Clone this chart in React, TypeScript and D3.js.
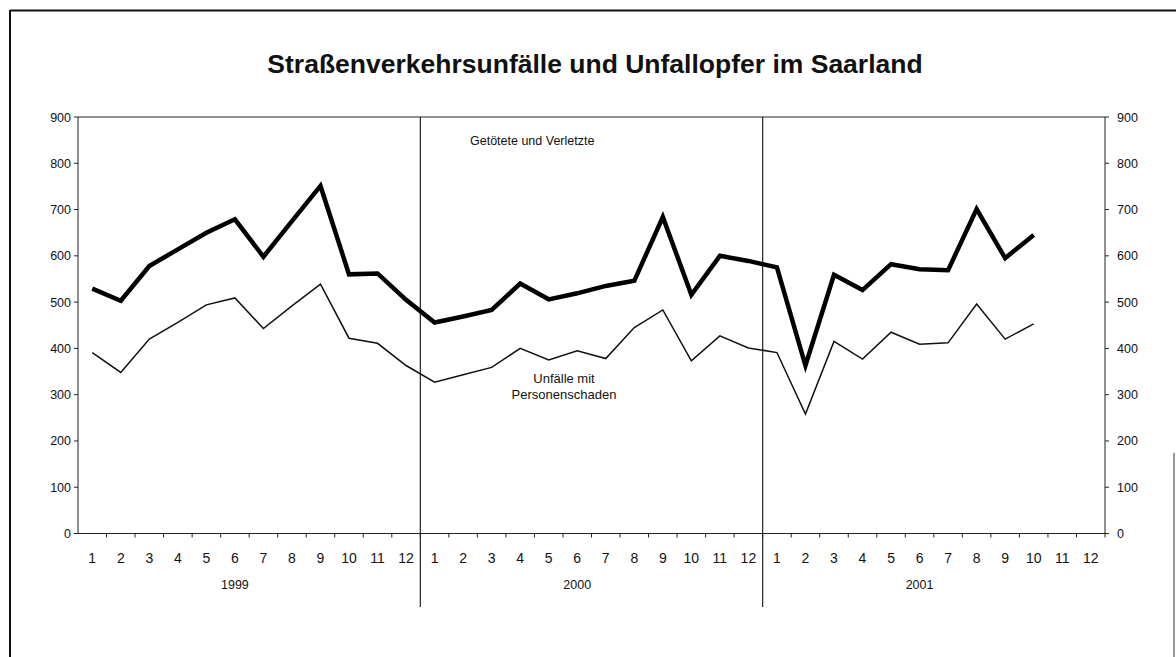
import React from "react";
import * as d3 from "d3";

const years = ["1999", "2000", "2001"];
const monthLabels = ["1", "2", "3", "4", "5", "6", "7", "8", "9", "10", "11", "12"];
const yTicks = [0, 100, 200, 300, 400, 500, 600, 700, 800, 900];

// Getötete und Verletzte (Jan 1999 – Okt 2001)
const getoetete = [
  529, 503, 578, 614, 650, 679, 598, 675, 751, 560, 562, 505,
  456, 469, 483, 540, 506, 519, 535, 546, 684, 516, 600, 589,
  575, 363, 559, 526, 582, 571, 569, 701, 595, 645,
];
// Unfälle mit Personenschaden
const unfaelle = [
  391, 348, 420, 456, 494, 509, 443, 492, 539, 422, 411, 363,
  327, 343, 359, 400, 375, 395, 378, 445, 483, 373, 427, 401,
  391, 258, 415, 377, 435, 409, 412, 496, 420, 453,
];

const W = 1176;
const H = 657;
const L = 78;
const R = 1105;
const T = 117;
const B = 533.5;

export default function App() {
  const cats = years.flatMap((y) => monthLabels.map((m) => `${y}-${m}`));
  const x = d3.scaleBand<string>().domain(cats).range([L, R]).padding(0);
  const y = d3.scaleLinear().domain([0, 900]).range([B, T]);
  const cx = (i: number) => (x(cats[i]) as number) + x.bandwidth() / 2;

  const line = d3
    .line<number>()
    .x((_, i) => cx(i))
    .y((d) => y(d));

  const font = "Liberation Sans, Arial, sans-serif";

  return (
    <svg
      width={W}
      height={H}
      style={{ position: "absolute", left: 0, top: 0, background: "#fff" }}
      fontFamily={font}
    >
      <rect x={0} y={0} width={W} height={H} fill="#fff" />
      {/* outer frame */}
      <line x1={10} y1={10.5} x2={W} y2={10.5} stroke="#111" strokeWidth={2} />
      <line x1={10} y1={10} x2={10} y2={H} stroke="#111" strokeWidth={2} />
      <line x1={1174} y1={453} x2={1174} y2={H} stroke="#555" strokeWidth={1.2} />

      {/* title */}
      <text x={595} y={73} textAnchor="middle" fontSize={26.5} fontWeight="bold" fill="#111">
        Straßenverkehrsunfälle und Unfallopfer im Saarland
      </text>

      {/* plot box */}
      <line x1={L} y1={T} x2={R} y2={T} stroke="#222" strokeWidth={1} />
      <line x1={L} y1={T} x2={L} y2={B} stroke="#222" strokeWidth={1} />
      <line x1={R} y1={T} x2={R} y2={B} stroke="#222" strokeWidth={1} />
      <line x1={L} y1={B} x2={R} y2={B} stroke="#222" strokeWidth={1.2} />

      {/* y ticks left and right */}
      {yTicks.map((t) => (
        <g key={t}>
          <line x1={L - 4} x2={L} y1={y(t)} y2={y(t)} stroke="#222" />
          <text x={71} y={y(t) + 4.5} textAnchor="end" fontSize={12.5} fill="#111">
            {t}
          </text>
          <line x1={R} x2={R + 4} y1={y(t)} y2={y(t)} stroke="#222" />
          <text x={1117} y={y(t) + 4.5} textAnchor="start" fontSize={12.5} fill="#111">
            {t}
          </text>
        </g>
      ))}

      {/* x ticks at category boundaries */}
      {cats.map((c, i) => (
        <line
          key={c}
          x1={(x(c) as number) + x.bandwidth()}
          x2={(x(c) as number) + x.bandwidth()}
          y1={B}
          y2={B + 4}
          stroke="#222"
        />
      ))}

      {/* month labels */}
      {cats.map((c, i) => (
        <text key={"m" + c} x={cx(i)} y={563} textAnchor="middle" fontSize={14} fill="#111">
          {monthLabels[i % 12]}
        </text>
      ))}

      {/* year labels */}
      {years.map((yr, k) => (
        <text key={yr} x={cx(k * 12 + 5)} y={589} textAnchor="middle" fontSize={12.5} fill="#111">
          {yr}
        </text>
      ))}

      {/* year dividers */}
      {[12, 24].map((i) => (
        <line
          key={i}
          x1={x(cats[i]) as number}
          x2={x(cats[i]) as number}
          y1={T}
          y2={607}
          stroke="#222"
          strokeWidth={1.2}
        />
      ))}

      {/* series */}
      <path d={line(unfaelle) ?? ""} fill="none" stroke="#111" strokeWidth={1.5} strokeLinejoin="miter" />
      <path d={line(getoetete) ?? ""} fill="none" stroke="#000" strokeWidth={4.5} strokeLinejoin="miter" />

      {/* annotations */}
      <text x={470} y={145} fontSize={12.5} fill="#111">
        Getötete und Verletzte
      </text>
      <text x={564} y={383} textAnchor="middle" fontSize={13} fill="#111">
        Unfälle mit
      </text>
      <text x={564} y={399} textAnchor="middle" fontSize={13} fill="#111">
        Personenschaden
      </text>
    </svg>
  );
}
